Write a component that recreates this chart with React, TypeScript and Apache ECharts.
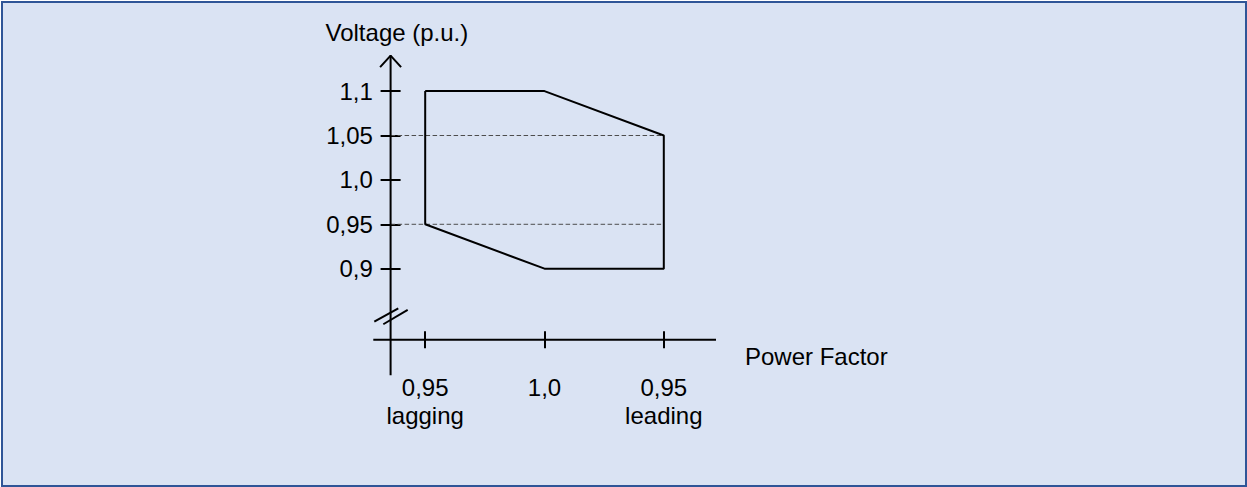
import React, { useEffect, useRef } from "react";
import * as echarts from "echarts";

// Power-factor positions on the x axis (lagging 0.95, unity, leading 0.95)
const pfPositions = [-1, 0, 1];
const pfTickLabels = ["0,95\nlagging", "1,0", "0,95\nleading"];

// Voltage ticks (p.u.)
const voltageTicks = [0.9, 0.95, 1.0, 1.05, 1.1];
const voltageTickLabels = ["0,9", "0,95", "1,0", "1,05", "1,1"];

// Operating envelope (closed polygon)
const envelopePF = [-1, 0, 1, 1, 0, -1, -1];
const envelopeVoltage = [1.1, 1.1, 1.05, 0.9, 0.9, 0.95, 1.1];

// Dashed reference levels
const dashedLevels = [1.05, 0.95];
const dashedEndPF = 1;

// Axis geometry in data units
const xMin = -1.44;
const xMax = 1.4375;
const yAxisAt = -1.29; // where the vertical axis stands
const xStubMin = -1.435;
const yMin = 0.82; // where the horizontal axis stands
const yMax = 1.14;
const yStubMin = 0.78;
const arrowDX = 0.088;
const arrowDY = 0.013;

// Axis-break marks ("//")
const breakMarkA = [
  [-1.4267, 0.8403],
  [-1.2255, 0.8554],
];
const breakMarkB = [
  [-1.3512, 0.8374],
  [-1.1467, 0.8535],
];

const FONT = "'Liberation Sans', Arial, sans-serif";
const FS = 24;

function blackLine(name: string, data: number[][], z = 3) {
  return {
    name,
    type: "line",
    data,
    symbol: "none",
    clip: false,
    silent: true,
    lineStyle: { color: "#000", width: 2 },
    z,
  };
}

export default function App() {
  const ref = useRef<HTMLDivElement>(null);

  useEffect(() => {
    if (!ref.current) return;
    const chart = echarts.init(ref.current, null, { renderer: "svg" });

    const envelope = envelopePF.map((x, i) => [x, envelopeVoltage[i]]);

    const labelFor = (vals: number[], labels: string[]) => (v: number) => {
      const i = vals.findIndex((t) => Math.abs(t - v) < 1e-9);
      return i >= 0 ? labels[i] : "";
    };

    const tickStyle = { color: "#000", width: 2 };
    const gridLeft = 372.7;
    const unitX = 119.3;
    const yOffset = -((yAxisAt - xMin) * unitX);

    const option: any = {
      animation: false,
      backgroundColor: "transparent",
      grid: {
        left: gridLeft,
        right: 531,
        top: 55.6,
        bottom: 147.3,
        containLabel: false,
        outerBoundsMode: "none",
      },
      xAxis: [
        {
          type: "value",
          min: xMin,
          max: xMax,
          position: "bottom",
          axisLine: { show: false, onZero: false },
          splitLine: { show: false },
          axisTick: {
            show: true,
            customValues: pfPositions,
            length: 8.5,
            inside: false,
            lineStyle: tickStyle,
          },
          axisLabel: {
            show: true,
            customValues: pfPositions,
            formatter: labelFor(pfPositions, pfTickLabels),
            margin: 33.4,
            fontSize: FS,
            fontFamily: FONT,
            color: "#000",
            lineHeight: 28,
            verticalAlign: "top",
            align: "center",
          },
        },
        {
          type: "value",
          min: xMin,
          max: xMax,
          position: "bottom",
          axisLine: { show: false, onZero: false },
          splitLine: { show: false },
          axisTick: {
            show: true,
            customValues: pfPositions,
            length: 8.5,
            inside: true,
            lineStyle: tickStyle,
          },
          axisLabel: { show: false },
        },
      ],
      yAxis: [
        {
          type: "value",
          min: yMin,
          max: yMax,
          position: "left",
          offset: yOffset,
          axisLine: { show: false, onZero: false },
          splitLine: { show: false },
          axisTick: {
            show: true,
            customValues: voltageTicks,
            length: 10,
            inside: false,
            lineStyle: tickStyle,
          },
          axisLabel: {
            show: true,
            customValues: voltageTicks,
            formatter: labelFor(voltageTicks, voltageTickLabels),
            margin: 17.7,
            fontSize: FS,
            fontFamily: FONT,
            color: "#000",
          },
        },
        {
          type: "value",
          min: yMin,
          max: yMax,
          position: "left",
          offset: yOffset,
          axisLine: { show: false, onZero: false },
          splitLine: { show: false },
          axisTick: {
            show: true,
            customValues: voltageTicks,
            length: 10,
            inside: true,
            lineStyle: tickStyle,
          },
          axisLabel: { show: false },
        },
      ],
      graphic: [
        {
          type: "text",
          x: 325.5,
          y: 32.4,
          silent: true,
          style: {
            text: "Voltage (p.u.)",
            fontSize: FS,
            fontFamily: FONT,
            fill: "#000",
            align: "left",
            verticalAlign: "middle",
          },
        },
        {
          type: "text",
          x: 745,
          y: 356.7,
          silent: true,
          style: {
            text: "Power Factor",
            fontSize: FS,
            fontFamily: FONT,
            fill: "#000",
            align: "left",
            verticalAlign: "middle",
          },
        },
      ],
      series: [
        ...dashedLevels.map((lvl) => ({
          name: "level " + lvl,
          type: "line",
          data: [
            [yAxisAt, lvl],
            [dashedEndPF, lvl],
          ],
          symbol: "none",
          silent: true,
          clip: false,
          lineStyle: { color: "#4d4d4d", width: 1, type: [4.5, 2.5] },
          z: 2,
        })),
        blackLine("y axis", [
          [yAxisAt, yStubMin],
          [yAxisAt, yMax],
        ]),
        blackLine("x axis", [
          [xStubMin, yMin],
          [xMax, yMin],
        ]),
        blackLine("arrow", [
          [yAxisAt - arrowDX, yMax - arrowDY],
          [yAxisAt, yMax],
          [yAxisAt + arrowDX, yMax - arrowDY],
        ]),
        blackLine("break a", breakMarkA),
        blackLine("break b", breakMarkB),
        blackLine("envelope", envelope, 4),
      ],
    };

    chart.setOption(option);
    return () => chart.dispose();
  }, []);

  return (
    <div
      style={{
        position: "fixed",
        left: 0,
        top: 0,
        width: 1247,
        height: 487,
        background: "#ffffff",
      }}
    >
      <div
        style={{
          position: "absolute",
          left: 1,
          top: 1,
          width: 1246,
          height: 486,
          boxSizing: "border-box",
          border: "2.5px solid #2F5597",
          background: "#DAE3F3",
        }}
      />
      <div
        ref={ref}
        style={{ position: "absolute", left: 0, top: 0, width: 1247, height: 487 }}
      />
    </div>
  );
}
